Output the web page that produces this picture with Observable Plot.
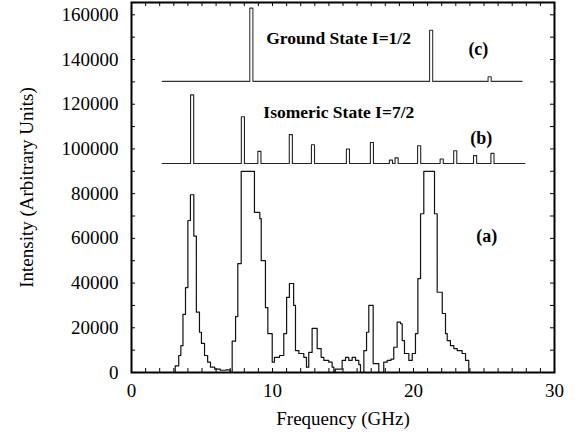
<!DOCTYPE html>
<html><head><meta charset="utf-8">
<script src="https://cdn.jsdelivr.net/npm/d3@7"></script>
<script src="https://cdn.jsdelivr.net/npm/@observablehq/plot@0.6"></script>
<style>
body{margin:0;background:#fff;}
svg text{font-family:'Liberation Serif','Times New Roman',serif;}
</style>
</head><body><div id="chart"></div>
<script>
// (a) measured spectrum: step left edges (GHz) and intensities
const specAFreq = [2.9,3.1,3.35,3.5,3.65,3.83,4.0,4.18,4.42,4.6,4.82,4.96,5.18,5.4,5.6,5.9,6.3,6.7,7.0,
  7.14,7.38,7.54,7.78,8.72,9.1,9.2,9.5,9.67,9.98,10.14,10.5,10.8,11.0,11.2,11.5,11.63,11.87,12.22,12.41,
  12.57,12.81,13.17,13.45,13.64,13.99,14.23,14.35,14.45,14.94,15.18,15.41,15.65,15.89,16.12,16.24,16.48,
  16.67,16.83,17.14,17.54,17.89,18.13,18.4,18.6,18.84,19.08,19.2,19.36,19.67,19.91,20.14,20.31,20.5,20.73,
  21.49,21.68,22.04,22.27,22.39,22.62,22.86,23.1,23.45,23.69,23.92];
const specAInt = [0,3000,7600,12000,26000,38000,68000,79500,61000,27000,18000,13000,7600,4600,2400,1500,1000,1200,0,
  14000,25000,48700,90000,71600,68800,50000,29000,17400,4600,6800,7600,17400,33600,39800,30000,9800,8500,6800,2400,
  9000,19700,10700,6800,5400,4600,2400,0,1500,5400,6800,5400,6800,5400,3500,0,9800,
  18000,30000,4000,0,4600,5400,6000,11300,22500,21800,14300,8500,5400,8500,17400,42000,71000,90000,
  71000,35900,26400,17400,14300,12000,10700,9800,8500,5400,0];

// (b) isomeric state I=7/2 stick spectrum
const isoFreq = [4.3,7.9,9.07,11.3,12.87,15.35,17.05,18.4,18.8,20.4,22.0,22.96,24.37,25.6];
const isoInt  = [124200,114400,98900,106400,101900,100000,102900,95000,96000,101400,95500,99200,97000,98000];
const isoBase = 93500, isoRange = [2.18, 27.9];

// (c) ground state I=1/2 stick spectrum
const gsFreq = [8.5,21.25,25.4];
const gsInt  = [163000,153100,132300];
const gsBase = 130200, gsRange = [2.18, 27.7];

// axis ticks
const xMajor = [0,10,20,30];
const yMajor = [0,20000,40000,60000,80000,100000,120000,140000,160000];
const xMinor = d3.range(0,31,1);
const yMinor = d3.range(0,165000,10000);

// annotations
const annText = ["Ground State I=1/2","Isomeric State I=7/2"];
const annX = [9.55, 9.35];
const annY = [149300, 116200];
const tagText = ["(c)","(b)","(a)"];
const tagX = [24.6, 24.8, 25.2];
const tagY = [144800, 104600, 60800];

const specA = specAFreq.map((f,i)=>({x:f, y:specAInt[i]}));
function sticks(freq, ints, base, range, w){
  const pts=[{x:range[0], y:base}];
  freq.forEach((f,i)=>{
    pts.push({x:f-w/2,y:base},{x:f-w/2,y:ints[i]},{x:f+w/2,y:ints[i]},{x:f+w/2,y:base});
  });
  pts.push({x:range[1], y:base});
  return pts;
}
const iso = sticks(isoFreq, isoInt, isoBase, isoRange, 0.22);
const gs = sticks(gsFreq, gsInt, gsBase, gsRange, 0.22);
const ann = annText.map((t,i)=>({t, x:annX[i], y:annY[i]}));
const tags = tagText.map((t,i)=>({t, x:tagX[i], y:tagY[i]}));

const W=577, H=432, mL=131, mR=23, mT=2, mB=60;
const fw = W-mL-mR, fh = H-mT-mB, tl = 4;
const serif = "'Liberation Serif','Times New Roman',serif";

const chart = Plot.plot({
  width:W, height:H, marginLeft:mL, marginRight:mR, marginTop:mT, marginBottom:mB,
  style:{fontFamily:serif, fontSize:"19px", color:"#000", background:"#fff"},
  x:{domain:[0,30]}, y:{domain:[0,165500]},
  marks:[
    Plot.axisX({ticks:xMajor, tickSize:0, tickPadding:11, fontSize:19, fontFamily:serif, label:"Frequency (GHz)", labelAnchor:"center", labelOffset:52, labelArrow:"none"}),
    Plot.axisY({ticks:yMajor, tickSize:0, tickPadding:13, tickFormat:"d", fontSize:19, fontFamily:serif, label:"Intensity (Arbitrary Units)", labelAnchor:"center", labelOffset:112, labelArrow:"none"}),
    Plot.tickX(xMinor, {x:d=>d, insetTop:fh-tl, stroke:"#000"}),
    Plot.tickX(xMinor, {x:d=>d, insetBottom:fh-tl, stroke:"#000"}),
    Plot.tickY(yMinor, {y:d=>d, insetRight:fw-tl, stroke:"#000"}),
    Plot.tickY(yMinor, {y:d=>d, insetLeft:fw-tl, stroke:"#000"}),
    Plot.line(specA, {x:"x", y:"y", curve:"step-after", stroke:"#111", strokeWidth:1.2}),
    Plot.line(iso, {x:"x", y:"y", stroke:"#222", strokeWidth:1.1}),
    Plot.line(gs, {x:"x", y:"y", stroke:"#333", strokeWidth:1.1}),
    Plot.text(ann, {x:"x", y:"y", text:"t", textAnchor:"start", fontSize:17.5, fontWeight:"bold", fontFamily:serif, fill:"#000"}),
    Plot.text(tags, {x:"x", y:"y", text:"t", fontSize:18, fontWeight:"bold", fontFamily:serif, fill:"#000"}),
    Plot.frame({stroke:"#000", strokeWidth:2})
  ]
});
document.getElementById("chart").appendChild(chart);
</script>
</body></html>
